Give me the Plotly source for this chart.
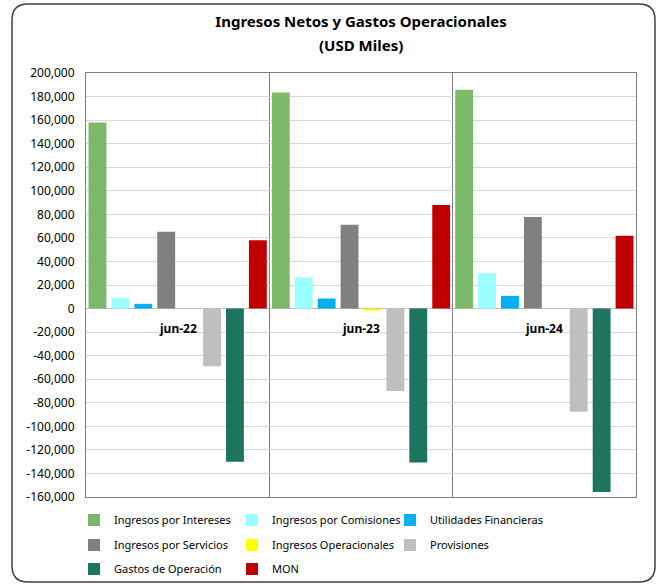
import plotly.graph_objects as go

categories = ["jun-22", "jun-23", "jun-24"]
series_names = ["Ingresos por Intereses", "Ingresos por Comisiones", "Utilidades Financieras",
                "Ingresos por Servicios", "Ingresos Operacionales", "Provisiones",
                "Gastos de Operación", "MON"]
intereses = [158000, 183500, 185800]
comisiones = [9100, 26400, 30000]
utilidades = [4000, 8500, 10800]
servicios = [65300, 71200, 77700]
operacionales = [0, -1700, 0]
provisiones = [-49000, -70000, -87700]
gastos = [-130000, -130800, -155700]
mon = [58000, 88000, 61900]
tick_vals = [200000, 180000, 160000, 140000, 120000, 100000, 80000, 60000, 40000, 20000, 0,
             -20000, -40000, -60000, -80000, -100000, -120000, -140000, -160000]
tick_text = ["200,000", "180,000", "160,000", "140,000", "120,000", "100,000", "80,000", "60,000",
             "40,000", "20,000", "0", "-20,000", "-40,000", "-60,000", "-80,000", "-100,000",
             "-120,000", "-140,000", "-160,000"]

colors = ["#7CBA6A", "#99FFFF", "#00B0F0", "#808080", "#FFFF00", "#BFBFBF", "#1D7560", "#C00000"]
values = [intereses, comisiones, utilidades, servicios, operacionales, provisiones, gastos, mon]
legend_ids = ["legend", "legend", "legend", "legend2", "legend2", "legend2", "legend3", "legend3"]

FONT = "Noto Sans"
W, H = 660, 584
L, R, T, B = 86, 24, 73, 87
pw, ph = W - L - R, H - T - B
def px(x):
    return (x - L) / pw
def py(y):
    return (H - B - y) / ph

fig = go.Figure()
for name, vals, col, lg in zip(series_names, values, colors, legend_ids):
    fig.add_trace(go.Bar(name=name, x=categories, y=vals, legend=lg,
                         marker=dict(color=col, line=dict(width=0))))

for c in categories:
    fig.add_annotation(x=c, y=0, xref="x", yref="y", text="<b>" + c + "</b>", showarrow=False,
                       yanchor="top", yshift=-9, font=dict(family=FONT, size=12, color="#000000"))

fig.add_annotation(x=0.5, y=py(45), xref="paper", yref="paper", text="<b>(USD Miles)</b>",
                   showarrow=False, xanchor="center", yanchor="middle",
                   font=dict(family=FONT, size=15, color="#000000"))

# rounded outer frame
x0, x1, y0, y1, r = 12, 655, 4, 582, 16
path = (f"M {px(x0 + r)} {py(y0)} L {px(x1 - r)} {py(y0)} "
        f"Q {px(x1)} {py(y0)} {px(x1)} {py(y0 + r)} L {px(x1)} {py(y1 - r)} "
        f"Q {px(x1)} {py(y1)} {px(x1 - r)} {py(y1)} L {px(x0 + r)} {py(y1)} "
        f"Q {px(x0)} {py(y1)} {px(x0)} {py(y1 - r)} L {px(x0)} {py(y0 + r)} "
        f"Q {px(x0)} {py(y0)} {px(x0 + r)} {py(y0)} Z")
fig.add_shape(type="path", xref="paper", yref="paper", path=path,
              line=dict(color="#404040", width=1.5), layer="below")

leg_common = dict(orientation="h", xanchor="left", yanchor="middle",
                  entrywidth=113, entrywidthmode="pixels", itemwidth=30,
                  font=dict(family=FONT, size=11, color="#000000"), bgcolor="rgba(0,0,0,0)")
fig.update_layout(
    width=W, height=H,
    margin=dict(l=L, r=R, t=T, b=B, autoexpand=False),
    paper_bgcolor="white", plot_bgcolor="white",
    barmode="group", bargap=0, bargroupgap=0.22,
    title=dict(text="<b>Ingresos Netos y Gastos Operacionales</b>",
               x=0.5, xanchor="center", xref="paper", y=1 - 22 / H, yanchor="middle",
               font=dict(family=FONT, size=15, color="#000000")),
    font=dict(family=FONT, size=12, color="#000000"),
    showlegend=True,
    legend=dict(x=px(74), y=py(520), **leg_common),
    legend2=dict(x=px(74), y=py(545), **leg_common),
    legend3=dict(x=px(74), y=py(569), **leg_common),
)
fig.update_xaxes(type="category", tickson="boundaries", showgrid=True, gridcolor="#7F7F7F",
                 gridwidth=1, showticklabels=False, ticks="", showline=True, linecolor="#7F7F7F",
                 mirror=True)
fig.update_yaxes(range=[-160000, 200000], tickvals=tick_vals, ticktext=tick_text, showgrid=True,
                 gridcolor="#D9D9D9", zeroline=True, zerolinecolor="#BFBFBF", zerolinewidth=1,
                 showline=True, linecolor="#7F7F7F", mirror=True, ticks="", ticklabelstandoff=8,
                 tickfont=dict(family=FONT, size=12, color="#000000"))

fig.write_html("out.html", config={"displayModeBar": False},
               post_script="document.body.style.margin='0px';")
